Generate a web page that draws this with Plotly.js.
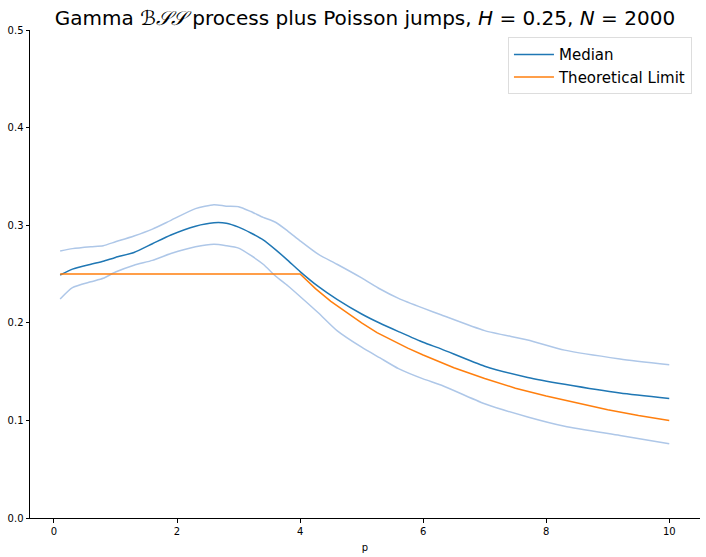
<!DOCTYPE html>
<html>
<head>
<meta charset="utf-8">
<script src="https://cdn.plot.ly/plotly-3.0.1.min.js"></script>
<style>
  html, body { margin: 0; padding: 0; background: #fff; }
  #chart { width: 706px; height: 557px; }
</style>
</head>
<body>
<div id="chart"></div>
<script>
// values
const pGrid = [0.1, 0.3, 0.6, 0.8, 1.0, 1.3, 1.6, 1.9, 2.3, 2.6, 2.8, 3.0, 3.2, 3.4, 3.6, 3.8,
  4.0, 4.3, 4.6, 5.0, 5.3, 5.6, 6.0, 6.3, 7.0, 7.7, 8.3, 9.2, 10.0];

const medianVals = [0.249, 0.255, 0.260, 0.263, 0.267, 0.272, 0.281, 0.290, 0.299, 0.3025, 0.302,
  0.298, 0.292, 0.285, 0.275, 0.264, 0.2525, 0.237, 0.224, 0.209, 0.1995, 0.191, 0.180, 0.173,
  0.1555, 0.144, 0.137, 0.128, 0.1225];

const upperVals = [0.2736, 0.276, 0.278, 0.279, 0.283, 0.289, 0.296, 0.305, 0.317, 0.321, 0.3195,
  0.319, 0.314, 0.308, 0.303, 0.294, 0.284, 0.270, 0.260, 0.246, 0.2346, 0.225, 0.215, 0.208,
  0.192, 0.1824, 0.172, 0.163, 0.157];

const lowerVals = [0.2244, 0.236, 0.242, 0.2456, 0.252, 0.259, 0.264, 0.271, 0.278, 0.2805, 0.279,
  0.2765, 0.269, 0.260, 0.248, 0.238, 0.227, 0.210, 0.192, 0.175, 0.164, 0.153, 0.1425, 0.136,
  0.117, 0.1035, 0.094, 0.0845, 0.076];

const limitP = [0.1, 4, 4.25, 4.5, 4.75, 5, 5.25, 5.5, 5.75, 6, 6.5, 7, 7.5, 8, 8.5, 9, 9.5, 10];
const limitVals = [0.25, 0.25, 0.235, 0.222, 0.211, 0.2, 0.19, 0.182, 0.174, 0.167, 0.154,
  0.143, 0.133, 0.125, 0.118, 0.111, 0.105, 0.1];

const xTicks = [0, 2, 4, 6, 8, 10];
const yTicks = [0, 0.1, 0.2, 0.3, 0.4, 0.5];

const BAND = "#aec7e8";
const smooth = { shape: "spline", smoothing: 0.6 };

const traces = [
  {
    x: pGrid, y: upperVals, type: "scatter", mode: "lines",
    line: Object.assign({ color: BAND, width: 1.5 }, smooth), showlegend: false, hoverinfo: "skip"
  },
  {
    x: pGrid, y: lowerVals, type: "scatter", mode: "lines",
    line: Object.assign({ color: BAND, width: 1.5 }, smooth), showlegend: false, hoverinfo: "skip"
  },
  {
    x: pGrid, y: medianVals, type: "scatter", mode: "lines", name: "Median",
    line: Object.assign({ color: "#1f77b4", width: 1.5 }, smooth)
  },
  {
    x: limitP, y: limitVals, type: "scatter", mode: "lines", name: "Theoretical Limit",
    line: { color: "#ff7f0e", width: 1.5 }
  }
];

const axisCommon = {
  showgrid: false, zeroline: false, showline: true, linecolor: "#000", linewidth: 1,
  ticks: "outside", ticklen: 3.5, tickwidth: 1, tickcolor: "#000",
  tickfont: { family: "DejaVu Sans", size: 10, color: "#000" }
};

const layout = {
  width: 706, height: 557,
  margin: { l: 30, r: 6, t: 30, b: 39 },
  paper_bgcolor: "#fff", plot_bgcolor: "#fff",
  font: { family: "DejaVu Sans", color: "#000" },
  title: {
    text: "Gamma <i>ℬ𝒮𝒮</i> process plus Poisson jumps, <i>H</i> = 0.25, <i>N</i> = 2000",
    font: { family: "DejaVu Sans", size: 20, color: "#000" },
    x: 0.517, xanchor: "center", y: 0.968, yanchor: "middle"
  },
  xaxis: Object.assign({}, axisCommon, {
    range: [-0.39, 10.5], tickvals: xTicks, ticktext: xTicks.map(String),
    title: { text: "p", font: { family: "DejaVu Sans", size: 10 }, standoff: 8 }
  }),
  yaxis: Object.assign({}, axisCommon, {
    range: [0, 0.5], tickvals: yTicks, ticktext: yTicks.map(v => v.toFixed(1))
  }),
  showlegend: true,
  legend: {
    x: 0.988, xanchor: "right", y: 0.985, yanchor: "top",
    bgcolor: "rgba(255,255,255,0.8)", bordercolor: "#dddddd", borderwidth: 1,
    font: { family: "DejaVu Sans", size: 15, color: "#000" },
    tracegroupgap: 0, itemwidth: 40
  }
};

Plotly.newPlot("chart", traces, layout, { staticPlot: true, displayModeBar: false });
</script>
</body>
</html>
